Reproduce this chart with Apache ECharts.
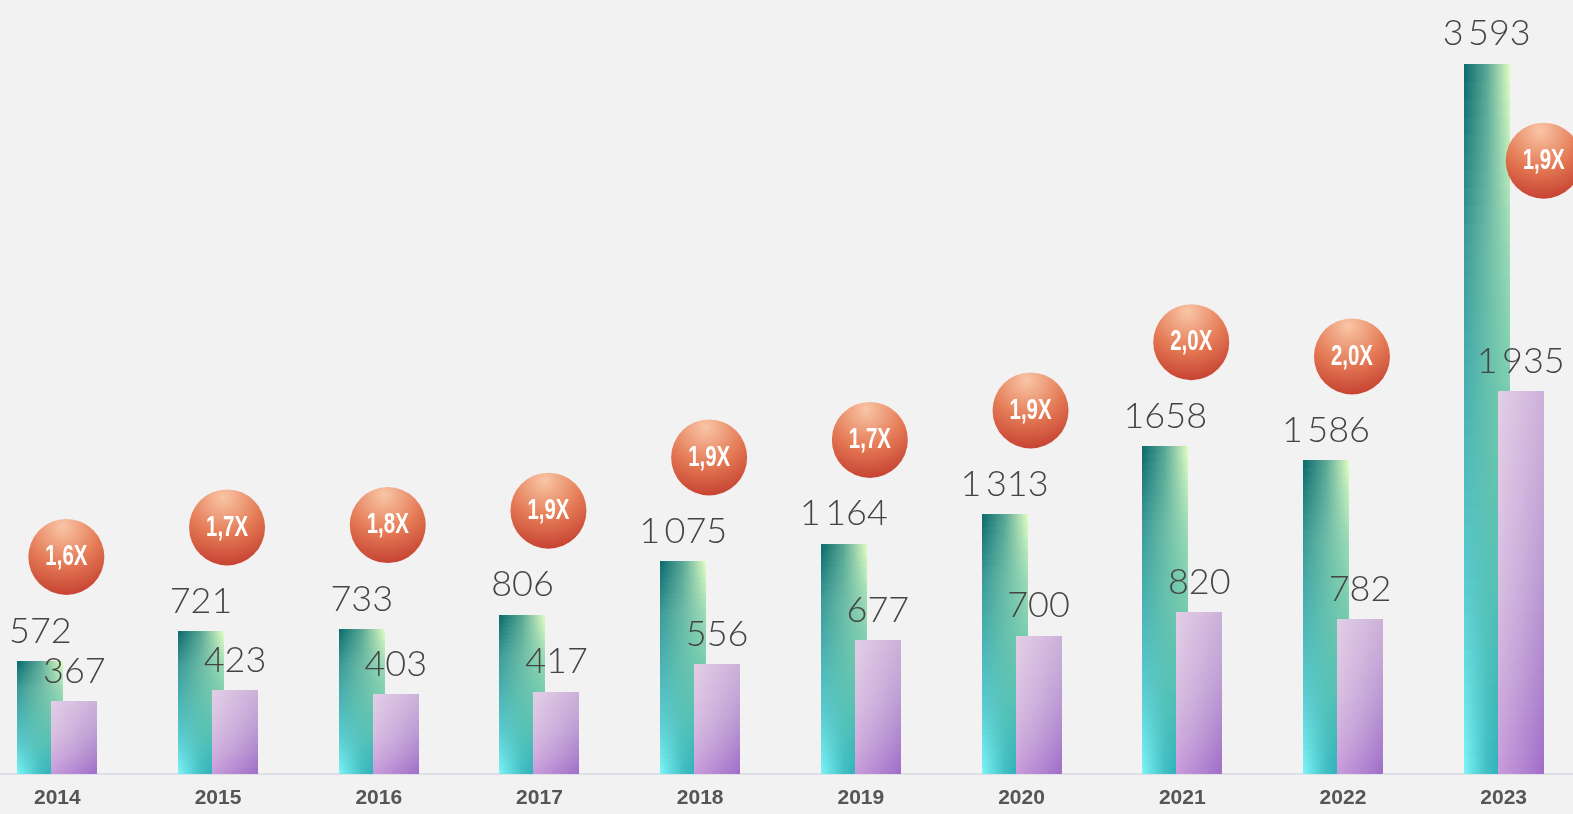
<!DOCTYPE html>
<html>
<head>
<meta charset="utf-8">
<title>chart</title>
<script src="https://cdn.jsdelivr.net/npm/echarts@6.0.0/dist/echarts.min.js"></script>
<style>
  html, body { margin: 0; padding: 0; background: #f2f2f2; }
  #chart { width: 1573px; height: 814px; }
</style>
</head>
<body>
<div id="chart"></div>
<script>
const years = ['2014', '2015', '2016', '2017', '2018', '2019', '2020', '2021', '2022', '2023']
const totals = [572, 721, 733, 806, 1075, 1164, 1313, 1658, 1586, 3593]
const totalLabels = ['572', '721', '733', '806', '1\u2009075', '1\u2009164', '1\u2009313', '1658', '1\u2009586', '3\u2009593']
const online = [367, 423, 403, 417, 556, 677, 700, 820, 782, 1935]
const onlineLabels = ['367', '423', '403', '417', '556', '677', '700', '820', '782', '1\u2009935']
const ratios = ['1,6X', '1,7X', '1,8X', '1,9X', '1,9X', '1,7X', '1,9X', '2,0X', '2,0X', '1,9X']

const G = echarts.graphic
const BAR_W = 46
const BAR_OFF = 17
const STRIPS = 40

// corner colours of the bar texture, top -> bottom
const tealL = ['#0a686b', '#3a9a98', '#4ab3b5', '#5ccdd3', '#7ef5f8']
const tealC = ['#5aa896', '#6cbba6', '#64c1ad', '#56c2b8', '#40bfc6']
const tealR = ['#e2ffc2', '#9ddcb6', '#76ccae', '#52bdb2', '#1fa6ac']
const purL = ['#e2cee6', '#dec8e4', '#d9bfe2', '#d2b0df', '#c89cdb']
const purC = ['#d8c0e0', '#d2b7de', '#cbaddb', '#c09dd6', '#b486d2']
const purR = ['#cbb1d9', '#c3a6d6', '#b998d2', '#ad84cd', '#a06cc8']

function texturedBar(rect, L, C, R) {
  const out = []
  const y0 = Math.round(rect.y)
  const y1 = Math.round(rect.y + rect.height)
  const n = Math.min(STRIPS, y1 - y0)
  for (let k = 0; k < n; k++) {
    const a = y0 + Math.round((y1 - y0) * k / n)
    const b = y0 + Math.round((y1 - y0) * (k + 1) / n)
    const t = (k + 0.5) / n
    out.push({
      type: 'rect',
      shape: { x: rect.x, y: a, width: rect.width, height: b - a },
      style: {
        fill: new G.LinearGradient(0, 0, 1, 0, [
          { offset: 0, color: echarts.color.lerp(t, L) },
          { offset: 0.5, color: echarts.color.lerp(t, C) },
          { offset: 1, color: echarts.color.lerp(t, R) }
        ])
      }
    })
  }
  return out
}

const valueFont = {
  fontFamily: 'Lato, "Open Sans", sans-serif',
  fontWeight: 300,
  fontSize: 36,
  fill: '#444'
}

const chart = echarts.init(document.getElementById('chart'))

chart.setOption({
  backgroundColor: '#f2f2f2',
  animation: false,
  grid: {
    left: -23,
    right: -11,
    top: 3,
    bottom: 40,
    outerBoundsMode: 'none'
  },
  xAxis: {
    type: 'category',
    data: years,
    axisTick: { show: false },
    axisLine: { lineStyle: { color: '#dde0e6', width: 2 } },
    axisLabel: {
      color: '#555',
      fontFamily: '"Liberation Sans", Arial, sans-serif',
      fontWeight: 'bold',
      fontSize: 21,
      margin: 14
    }
  },
  yAxis: {
    type: 'value',
    min: 0,
    max: 3900,
    show: false,
    splitLine: { show: false }
  },
  series: [
    {
      // the two bars of each year
      type: 'custom',
      z: 2,
      data: years.map((y, i) => [i, totals[i], online[i]]),
      encode: { x: 0, y: [1, 2] },
      renderItem(params, api) {
        const i = api.value(0)
        const base = api.coord([i, 0])
        const tTop = api.coord([i, api.value(1)])[1]
        const pTop = api.coord([i, api.value(2)])[1]
        const teal = { x: Math.round(base[0] - BAR_OFF - BAR_W / 2), y: tTop, width: BAR_W, height: base[1] - tTop }
        const purple = { x: Math.round(base[0] + BAR_OFF - BAR_W / 2), y: pTop, width: BAR_W, height: base[1] - pTop }
        return {
          type: 'group',
          children: [].concat(
            texturedBar(teal, tealL, tealC, tealR),
            texturedBar(purple, purL, purC, purR),
            [
              {
                type: 'text',
                x: base[0] - BAR_OFF,
                y: tTop - 12,
                style: Object.assign({ text: totalLabels[i], align: 'center', verticalAlign: 'bottom' }, valueFont)
              },
              {
                type: 'text',
                x: base[0] + BAR_OFF,
                y: pTop - 12,
                style: Object.assign({ text: onlineLabels[i], align: 'center', verticalAlign: 'bottom' }, valueFont)
              }
            ]
          )
        }
      }
    },
    {
      // growth badges
      type: 'custom',
      z: 5,
      data: years.map((y, i) => [i, totals[i]]),
      encode: { x: 0, y: 1 },
      renderItem(params, api) {
        const i = api.value(0)
        const p = api.coord([i, api.value(1)])
        const last = i === years.length - 1
        const cx = p[0] + (last ? 40 : 9)
        const cy = p[1] + (last ? 97 : -104)
        return {
          type: 'group',
          children: [
            {
              type: 'circle',
              shape: { cx: cx, cy: cy, r: 38 },
              style: {
                fill: new G.RadialGradient(0.45, 0.1, 1, [
                  { offset: 0, color: '#f9c6a6' },
                  { offset: 0.5, color: '#e47a55' },
                  { offset: 1, color: '#c0362a' }
                ])
              }
            },
            {
              type: 'text',
              x: cx,
              y: cy,
              scaleX: 0.68,
              style: {
                text: ratios[i],
                align: 'center',
                verticalAlign: 'middle',
                fill: '#fff',
                fontFamily: '"Liberation Sans", Arial, sans-serif',
                fontWeight: 'bold',
                fontSize: 30
              }
            }
          ]
        }
      }
    }
  ]
})
</script>
</body>
</html>
